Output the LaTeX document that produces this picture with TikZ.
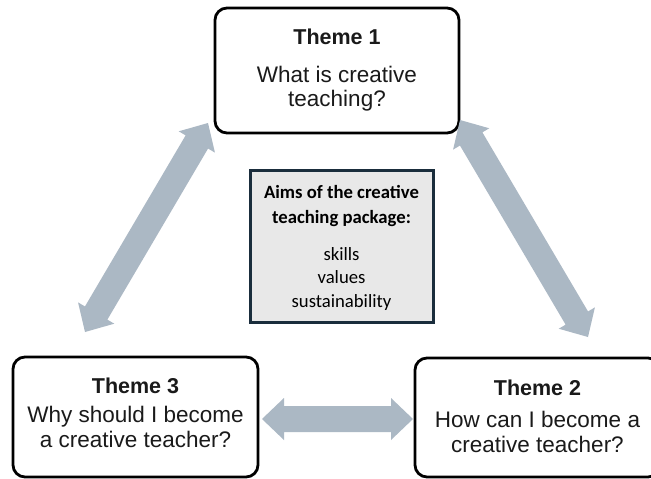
\documentclass[tikz,border=0pt]{standalone}
\usepackage{fontspec}
\setmainfont{Liberation Sans}
\newfontfamily\calib{Carlito}
\usetikzlibrary{calc}
\definecolor{arrowgray}{HTML}{ABB8C4}
\definecolor{aimfill}{HTML}{E8E8E8}
\definecolor{aimborder}{HTML}{1A2D3C}
\definecolor{txt}{HTML}{1A1A1A}
\tikzset{
  themebox/.style={draw=black, line width=2.8pt, rounded corners=12pt, fill=white, inner sep=0pt},
  aimbox/.style={draw=aimborder, line width=3pt, fill=aimfill, inner sep=0pt,
    minimum width=183pt, minimum height=152pt},
  ttitle/.style={anchor=base, text=txt, font=\fontsize{21.5pt}{24pt}\selectfont\bfseries},
  tbody/.style={anchor=base, text=txt, font=\fontsize{22.5pt}{24pt}\selectfont},
  aimtitle/.style={anchor=base, text=black, font=\fontsize{18.7pt}{22pt}\selectfont\calib\bfseries},
  aimtext/.style={anchor=base, text=black, font=\fontsize{18.7pt}{22pt}\selectfont\calib},
  fatarrow/.style={fill=arrowgray, draw=none}
}
\newcommand{\fatarr}[2]{%
  \fill[fatarrow] (#1)
    -- ($(#1)!22pt!(#2)!21pt!90:(#2)$)
    -- ($(#1)!22pt!(#2)!13pt!90:(#2)$)
    -- ($(#2)!22pt!(#1)!13pt!-90:(#1)$)
    -- ($(#2)!22pt!(#1)!21pt!-90:(#1)$)
    -- (#2)
    -- ($(#2)!22pt!(#1)!21pt!90:(#1)$)
    -- ($(#2)!22pt!(#1)!13pt!90:(#1)$)
    -- ($(#1)!22pt!(#2)!13pt!-90:(#2)$)
    -- ($(#1)!22pt!(#2)!21pt!-90:(#2)$)
    -- cycle;}
\begin{document}
\begin{tikzpicture}[x=1pt,y=-1pt]
\clip (0,0) rectangle (651,479);
\fill[white] (0,0) rectangle (651,479);

% boxes
\node[themebox, minimum width=244pt, minimum height=125pt] (t1) at (337,70.5) {};
\node[themebox, minimum width=245pt, minimum height=120pt] (t3) at (135.5,417) {};
\node[themebox, minimum width=245pt, minimum height=119pt] (t2) at (537.5,417.5) {};
\node[aimbox] (aim) at (341.5,246) {};

% arrows (tips)
\coordinate (l1) at (85,332);
\coordinate (l2) at (208,123);
\coordinate (r1) at (460,120);
\coordinate (r2) at (588,337);
\coordinate (h1) at (262,419);
\coordinate (h2) at (413,419);
\fatarr{l1}{l2}
\fatarr{r1}{r2}
\fatarr{h1}{h2}

% Theme 1 text
\node[ttitle] (t1a) at (337,45) {Theme 1};
\node[tbody] (t1b) at (337,82) {What is creative};
\node[tbody] (t1c) at (337,106) {teaching?};
% Theme 3 text
\node[ttitle] (t3a) at (135.5,393) {Theme 3};
\node[tbody] (t3b) at (135.5,422) {Why should I become};
\node[tbody] (t3c) at (135.5,447) {a creative teacher?};
% Theme 2 text
\node[ttitle] (t2a) at (537.5,395) {Theme 2};
\node[tbody] (t2b) at (537.5,427) {How can I become a};
\node[tbody] (t2c) at (537.5,452) {creative teacher?};
% aims text
\node[aimtitle] (aa) at (341.5,198) {Aims of the creative};
\node[aimtitle] (ab) at (341.5,223) {teaching package:};
\node[aimtext] (ac) at (341.5,260) {skills};
\node[aimtext] (ad) at (341.5,283) {values};
\node[aimtext] (ae) at (341.5,307) {sustainability};
\end{tikzpicture}
\end{document}
